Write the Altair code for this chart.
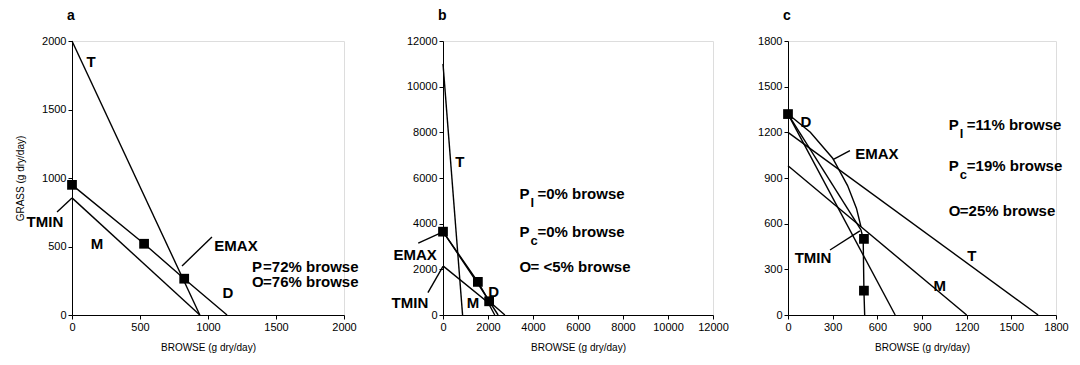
import altair as alt
import pandas as pd

FONT = "Liberation Sans"

# ---------------- panel a ----------------
a_lines = {
    "T": ([0, 940], [2000, 0]),
    "M": ([0, 940], [855, 0]),
    "D": ([0, 530, 825, 1140], [950, 520, 265, 0]),
}
a_sq_x = [0, 530, 825]
a_sq_y = [950, 520, 265]
a_lab = ["T", "M", "D", "EMAX", "TMIN"]
a_lab_x = [140, 184, 1147, 1206, -199]
a_lab_y = [1850, 518, 160, 504, 679]
a_leaders = [([1029, 809], [569, 358]), ([-110, 0], [752, 854])]
a_notes = [("P", "", "=72% browse", 1324, 350), ("O", "", "=76% browse", 1324, 240)]

# ---------------- panel b ----------------
b_lines = {
    "T": ([0, 870], [11000, 0]),
    "D": ([0, 1550, 2050, 2750], [3650, 1450, 600, 0]),
    "E": ([0, 1700, 2450], [3650, 1150, 0]),
    "M": ([0, 2000, 2300], [2150, 550, 0]),
}
b_sq_x = [0, 1550, 2050]
b_sq_y = [3650, 1450, 600]
b_lab = ["T", "EMAX", "TMIN", "M", "D"]
b_lab_x = [750, -1240, -1470, 1330, 2250]
b_lab_y = [6700, 2620, 530, 530, 1000]
b_leaders = [([-1100, 0], [3150, 3640]), ([-670, 0], [980, 2130])]
b_notes = [("P", "l", " =0% browse", 3400, 5300), ("P", "c", "=0% browse", 3400, 3640),
           ("O", "", " = <5% browse", 3400, 2100)]

# ---------------- panel c ----------------
c_lines = {
    "T": ([0, 1680], [1200, 0]),
    "M": ([0, 1200], [980, 0]),
    "S": ([0, 720], [1320, 0]),
    "B": ([0, 490], [1320, 560]),
    "C": ([0, 150, 300, 400, 460, 490], [1320, 1200, 1030, 850, 700, 580]),
    "V": ([490, 505, 510, 515], [560, 500, 160, 0]),
}
c_sq_x = [0, 510, 510]
c_sq_y = [1320, 500, 160]
c_lab = ["D", "EMAX", "TMIN", "T", "M"]
c_lab_x = [121, 597, 168, 1235, 1020]
c_lab_y = [1267, 1060, 373, 387, 193]
c_leaders = [([416, 302], [1080, 1020]), ([282, 483], [427, 553])]
c_notes = [("P", "l", " =11% browse", 1080, 1250), ("P", "c", "=19% browse", 1080, 980),
           ("O", "", " =25% browse", 1080, 680)]


def panel(letter, xmax, xstep, ymax, ystep, lines, sqx, sqy, lab, labx, laby,
          leaders, notes, ytitle, w, h):
    xs = alt.Scale(domain=[0, xmax], nice=False)
    ys = alt.Scale(domain=[0, ymax], nice=False)
    ax_common = dict(tickSize=4, labelFontSize=11, labelFont=FONT, labelColor="black",
                     domainColor="black", tickColor="black", grid=False, format="d",
                     labelFlush=False, labelPadding=2, labelOverlap=False,
                     titleFont=FONT, titleFontSize=10, titleFontWeight="normal",
                     titleColor="black")
    xaxis = alt.Axis(values=list(range(0, xmax + 1, xstep)), title="BROWSE (g dry/day)",
                     titlePadding=10, **ax_common)
    if ytitle:
        yaxis = alt.Axis(values=list(range(0, ymax + 1, ystep)), title=ytitle,
                         titlePadding=16, **ax_common)
    else:
        yaxis = alt.Axis(values=list(range(0, ymax + 1, ystep)), title=None, **ax_common)

    rows = []
    for name, (lx, ly) in lines.items():
        for i, (px, py) in enumerate(zip(lx, ly)):
            rows.append({"x": px, "y": py, "s": name, "o": i})
    df_lines = pd.DataFrame(rows)
    base_lines = alt.Chart(df_lines).mark_line(color="black", strokeWidth=1.4).encode(
        x=alt.X("x:Q", scale=xs, axis=xaxis),
        y=alt.Y("y:Q", scale=ys, axis=yaxis),
        detail="s:N", order="o:Q")

    lrows = []
    for i, (lx, ly) in enumerate(leaders):
        for j, (px, py) in enumerate(zip(lx, ly)):
            lrows.append({"x": px, "y": py, "s": str(i), "o": j})
    lead = alt.Chart(pd.DataFrame(lrows)).mark_line(color="black", strokeWidth=1.4).encode(
        x=alt.X("x:Q", scale=xs), y=alt.Y("y:Q", scale=ys), detail="s:N", order="o:Q")

    sq = alt.Chart(pd.DataFrame({"x": sqx, "y": sqy})).mark_point(
        shape="square", filled=True, color="black", size=95, opacity=1).encode(
        x=alt.X("x:Q", scale=xs), y=alt.Y("y:Q", scale=ys))

    labs = alt.Chart(pd.DataFrame({"x": labx, "y": laby, "t": lab})).mark_text(
        font=FONT, fontSize=15, fontWeight="bold", color="black", align="center",
        baseline="middle").encode(
        x=alt.X("x:Q", scale=xs), y=alt.Y("y:Q", scale=ys), text="t:N")

    ndf = pd.DataFrame({"x": [n[3] for n in notes], "y": [n[4] for n in notes],
                        "m": [n[0] for n in notes], "sub": [n[1] for n in notes],
                        "rest": [n[2] for n in notes],
                        "hassub": [n[1] != "" for n in notes]})
    n_main = alt.Chart(ndf).mark_text(font=FONT, fontSize=15, fontWeight="bold",
                                      color="black", align="left", baseline="middle").encode(
        x=alt.X("x:Q", scale=xs), y=alt.Y("y:Q", scale=ys), text="m:N")
    sub_df = ndf[ndf["hassub"]]
    n_sub = alt.Chart(sub_df).mark_text(font=FONT, fontSize=13, fontWeight="bold",
                                        color="black", align="left", baseline="middle",
                                        dx=11, dy=9).encode(
        x=alt.X("x:Q", scale=xs), y=alt.Y("y:Q", scale=ys), text="sub:N")
    rest_sub = alt.Chart(sub_df).mark_text(font=FONT, fontSize=15, fontWeight="bold",
                                           color="black", align="left", baseline="middle",
                                           dx=18).encode(
        x=alt.X("x:Q", scale=xs), y=alt.Y("y:Q", scale=ys), text="rest:N")
    nosub_df = ndf[~ndf["hassub"]]
    rest_nosub = alt.Chart(nosub_df).mark_text(font=FONT, fontSize=15, fontWeight="bold",
                                               color="black", align="left",
                                               baseline="middle", dx=11).encode(
        x=alt.X("x:Q", scale=xs), y=alt.Y("y:Q", scale=ys), text="rest:N")

    layers = [base_lines, lead, sq, labs, n_main, rest_nosub]
    if len(sub_df):
        layers += [n_sub, rest_sub]
    return alt.layer(*layers).properties(
        width=w, height=h,
        title=alt.TitleParams(letter, anchor="start", frame="group", fontSize=14,
                              fontWeight="bold", font=FONT, color="black", offset=12, dx=-5))


pa = panel("a", 2000, 500, 2000, 500, a_lines, a_sq_x, a_sq_y, a_lab, a_lab_x, a_lab_y,
           a_leaders, a_notes, "GRASS (g dry/day)", 272, 274)
pb = panel("b", 12000, 2000, 12000, 2000, b_lines, b_sq_x, b_sq_y, b_lab, b_lab_x, b_lab_y,
           b_leaders, b_notes, None, 270, 274)
pc = panel("c", 1800, 300, 1800, 300, c_lines, c_sq_x, c_sq_y, c_lab, c_lab_x, c_lab_y,
           c_leaders, c_notes, None, 268, 274)

chart = alt.hconcat(pa, alt.hconcat(pb, pc, spacing=28), spacing=31).configure_view(
    stroke=None).configure(background="white").properties(
    padding={"left": 7, "top": 0, "right": 0, "bottom": 0})
chart.save("out.html", embed_options={"renderer": "svg", "actions": False})
